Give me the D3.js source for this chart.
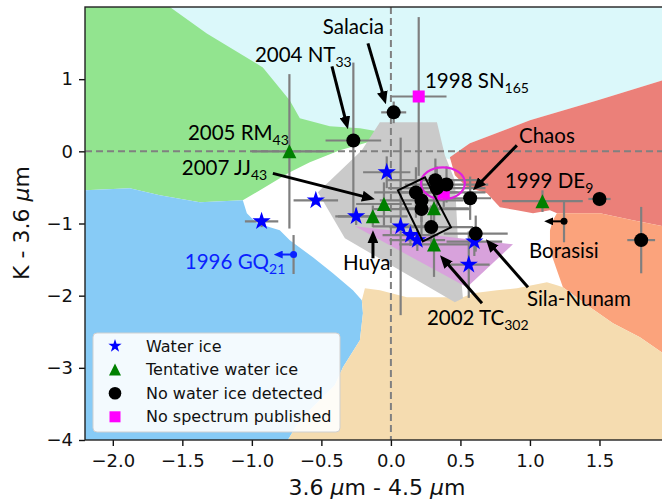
<!DOCTYPE html>
<html>
<head>
<meta charset="utf-8">
<script src="https://cdn.jsdelivr.net/npm/d3@7"></script>
<style>
  body { margin: 0; background: #fff; }
  svg { display: block; }
</style>
</head>
<body>
<svg id="chart" width="662" height="502"></svg>
<script>
// ---------------- data ----------------
// Colour–colour measurements with 1-sigma uncertainties
const waterIce = [
  { x: -0.93, y: -0.97, xerr: 0.12, yerr: 0.08 },
  { x: -0.54, y: -0.68, xerr: 0.16, yerr: 0.06 },
  { x: -0.25, y: -0.90, xerr: 0.15, yerr: 0.12 },
  { x: -0.03, y: -0.29, xerr: 0.17, yerr: 0.22 },
  { x: 0.07, y: -1.04, xerr: 0.20, yerr: 1.23 },
  { x: 0.14, y: -1.16, xerr: 0.20, yerr: 0.15 },
  { x: 0.19, y: -1.23, xerr: 0.20, yerr: 0.15 },
  { x: 0.60, y: -1.25, xerr: 0.20, yerr: 0.20 },
  { x: 0.56, y: -1.57, xerr: 0.15, yerr: 0.46 }
];
const tentativeIce = [
  { x: -0.73, y: 0.00, xerr: 0.27, yerr: 1.07 },
  { x: -0.05, y: -0.73, xerr: 0.20, yerr: 0.30 },
  { x: -0.13, y: -0.90, xerr: 0.25, yerr: 0.15 },
  { x: 0.31, y: -0.79, xerr: 0.25, yerr: 0.40 },
  { x: 0.31, y: -1.29, xerr: 0.25, yerr: 0.45 },
  { x: 1.09, y: -0.69, xerr: 0.29, yerr: 0.15 }
];
const noIce = [
  { x: 0.02, y: 0.54, xerr: 0.09, yerr: 0.15 },
  { x: -0.27, y: 0.15, xerr: 0.20, yerr: 1.08 },
  { x: 0.32, y: -0.40, xerr: 0.35, yerr: 0.30 },
  { x: 0.40, y: -0.46, xerr: 0.30, yerr: 0.25 },
  { x: 0.33, y: -0.51, xerr: 0.35, yerr: 0.30 },
  { x: 0.18, y: -0.57, xerr: 0.30, yerr: 0.35 },
  { x: 0.22, y: -0.68, xerr: 0.30, yerr: 0.30 },
  { x: 0.22, y: -0.80, xerr: 0.35, yerr: 0.35 },
  { x: 0.29, y: -1.05, xerr: 0.30, yerr: 0.30 },
  { x: 0.57, y: -0.65, xerr: 0.15, yerr: 0.30 },
  { x: 0.61, y: -1.14, xerr: 0.23, yerr: 0.25 },
  { x: 1.50, y: -0.66, xerr: 0.08, yerr: 0.10 },
  { x: 1.80, y: -1.23, xerr: 0.10, yerr: 0.46 }
];
const noSpectrum = [
  { x: 0.20, y: 0.76, xerr: 0.20, yerr: 1.10 },
  { x: 0.38, y: -0.57, xerr: 0.30, yerr: 0.20 }
];
// Upper limits in the 3.6-4.5 colour (arrow points to lower values)
const upperLimits = [
  { name: "1996 GQ21", x: -0.70, y: -1.43, dx: 0.15, yerr: 0.27, kind: "ice" },
  { name: "Borasisi", x: 1.245, y: -0.97, dx: 0.15, yerr: 0.29, kind: "none" }
];

// Model composition regions in colour space
const cyanRegion = [[-2.2,2.0],[2.0,2.0],[2.0,1.011],[1.482,0.706],[1.0,0.429],[0.568,0.111],[0.446,-0.125],[-0.058,0.152],[-0.655,0.36],[-2.2,0.36]];
const greenRegion = [[-2.2,2.0],[-1.59,2.0],[-1.324,1.634],[-0.921,1.163],[-0.727,0.706],[-0.655,0.457],[-0.439,0.346],[-0.223,0.319],[-0.058,0.263],[-0.115,0.152],[-0.367,0.014],[-0.583,-0.152],[-0.727,-0.291],[-0.942,-0.54],[-1.065,-0.679],[-1.374,-0.706],[-1.662,-0.609],[-1.878,-0.512],[-2.2,-0.54]];
const blueRegion = [[-2.2,-0.54],[-1.878,-0.512],[-1.662,-0.609],[-1.374,-0.706],[-1.065,-0.679],[-1.036,-0.859],[-0.964,-0.997],[-0.799,-1.094],[-0.727,-1.233],[-0.561,-1.468],[-0.417,-1.69],[-0.273,-1.925],[-0.209,-2.064],[-0.201,-2.244],[-0.223,-2.618],[-0.345,-2.992],[-0.403,-3.241],[-0.547,-3.518],[-0.655,-3.726],[-0.741,-4.0],[-2.2,-4.0]];
const redRegion = [[0.424,-0.083],[0.568,0.111],[1.0,0.429],[1.482,0.706],[2.0,1.011],[2.0,-1.053],[1.741,-0.956],[1.504,-0.859],[1.194,-0.859],[1.144,-0.817],[1.022,-0.859],[0.906,-0.817],[0.784,-0.776],[0.691,-0.582],[0.547,-0.499],[0.46,-0.332]];
const salmonRegion = [[1.194,-0.859],[1.504,-0.859],[1.741,-0.956],[2.0,-1.053],[2.0,-2.853],[1.791,-2.576],[1.597,-2.382],[1.432,-2.161],[1.237,-1.884],[1.194,-1.648],[1.144,-1.371],[1.144,-1.094],[1.165,-0.956]];
const tanRegion = [[-0.741,-4.0],[-0.655,-3.726],[-0.547,-3.518],[-0.403,-3.241],[-0.345,-2.992],[-0.223,-2.618],[-0.201,-2.244],[-0.209,-2.064],[-0.187,-1.898],[-0.079,-1.925],[0.115,-2.022],[0.518,-2.022],[0.59,-1.967],[0.763,-1.925],[0.906,-1.898],[1.122,-1.814],[1.194,-1.856],[1.237,-1.884],[1.432,-2.161],[1.597,-2.382],[1.791,-2.576],[2.0,-2.853],[2.0,-4.0]];
const grayRegion = [[-0.525,-0.568],[-0.209,0.014],[-0.079,0.402],[0.331,0.402],[0.388,-0.055],[0.46,-0.402],[0.482,-1.233],[0.518,-2.036],[0.46,-2.091],[-0.331,-1.205]];
const purpleRegion = [[-0.259,-1.039],[0.878,-1.288],[0.547,-1.884]];

// Highlight shapes
const highlightEllipse = { cx: 0.374, cy: -0.443, rx: 0.158, ry: 0.222 };
const highlightBox = [[0.05,-0.54],[0.245,-0.36],[0.432,-1.053],[0.23,-1.247]];

// Object labels (start of text) and pointer arrows
const labels = [
  { text: "Salacia", sub: "", x: -0.49, y: 1.62 },
  { text: "2004 NT", sub: "33", x: -0.978, y: 1.233 },
  { text: "1998 SN", sub: "165", x: 0.245, y: 0.875 },
  { text: "2005 RM", sub: "43", x: -1.46, y: 0.152 },
  { text: "2007 JJ", sub: "43", x: -1.504, y: -0.332 },
  { text: "Chaos", sub: "", x: 0.921, y: 0.111 },
  { text: "1999 DE", sub: "9", x: 0.82, y: -0.512 },
  { text: "Borasisi", sub: "", x: 0.993, y: -1.482 },
  { text: "Sila-Nunam", sub: "", x: 0.978, y: -2.147 },
  { text: "2002 TC", sub: "302", x: 0.259, y: -2.41 },
  { text: "Huya", sub: "", x: -0.345, y: -1.648 },
  { text: "1996 GQ", sub: "21", x: -1.482, y: -1.634, blue: true }
];
const pointers = [
  { x1: -0.165, y1: 1.496, x2: -0.036, y2: 0.651 },
  { x1: -0.424, y1: 1.177, x2: -0.309, y2: 0.305 },
  { x1: -0.849, y1: -0.305, x2: -0.115, y2: -0.665 },
  { x1: -0.129, y1: -1.482, x2: -0.129, y2: -1.094 },
  { x1: 0.906, y1: 0.083, x2: 0.59, y2: -0.54 },
  { x1: 0.986, y1: -1.884, x2: 0.683, y2: -1.219 },
  { x1: 0.655, y1: -2.105, x2: 0.353, y2: -1.44 }
];

const xTicks = [-2.0, -1.5, -1.0, -0.5, 0.0, 0.5, 1.0, 1.5];
const yTicks = [-4, -3, -2, -1, 0, 1];
const legendItems = ["Water ice", "Tentative water ice", "No water ice detected", "No spectrum published"];

// ---------------- drawing ----------------
const svg = d3.select("#chart");
const x = d3.scaleLinear().domain([-2.2, 2.0]).range([85, 669]);
const y = d3.scaleLinear().domain([-4, 2]).range([440, 7]);

const defs = svg.append("defs");
defs.append("clipPath").attr("id", "plotclip")
  .append("rect").attr("x", 85).attr("y", 7).attr("width", 584).attr("height", 433);
function headMarker(id, color, w, h) {
  defs.append("marker").attr("id", id)
    .attr("viewBox", `0 0 ${w} ${h}`).attr("refX", 2).attr("refY", h / 2)
    .attr("markerWidth", w).attr("markerHeight", h)
    .attr("markerUnits", "userSpaceOnUse").attr("orient", "auto")
    .append("path").attr("d", `M0,0 L${w},${h / 2} L0,${h} Z`).attr("fill", color);
}
headMarker("head", "#000", 13, 11);
headMarker("headSmall", "#000", 9, 8);
headMarker("headBlue", "#0a22ff", 9, 8);

const plot = svg.append("g").attr("clip-path", "url(#plotclip)");
plot.append("rect").attr("x", 85).attr("y", 7).attr("width", 584).attr("height", 433).attr("fill", "#fff");

const line = d3.line().x(d => x(d[0])).y(d => y(d[1]));
const regionStyles = [
  [cyanRegion, "#dbf8fa"],
  [greenRegion, "#92e48f"],
  [blueRegion, "#87cbf6"],
  [redRegion, "#eb8079"],
  [salmonRegion, "#fba37c"],
  [tanRegion, "#f5dcb0"],
  [grayRegion, "#cacaca"],
  [purpleRegion, "#d8a2dc"]
];
regionStyles.forEach(([pts, col]) => {
  plot.append("path").attr("d", line(pts) + "Z").attr("fill", col);
});

// zero lines
plot.append("line").attr("x1", x(0)).attr("x2", x(0)).attr("y1", y(2)).attr("y2", y(-4))
  .attr("stroke", "#808080").attr("stroke-width", 2).attr("stroke-dasharray", "7,4");
plot.append("line").attr("x1", x(-2.2)).attr("x2", x(2.0)).attr("y1", y(0)).attr("y2", y(0))
  .attr("stroke", "#808080").attr("stroke-width", 2).attr("stroke-dasharray", "7,4");

// error bars
const allPts = [...waterIce, ...tentativeIce, ...noIce, ...noSpectrum];
const eb = plot.append("g").attr("stroke", "#7f7f7f").attr("stroke-width", 2.2);
allPts.forEach(d => {
  if (d.xerr) eb.append("line").attr("x1", x(d.x - d.xerr)).attr("x2", x(d.x + d.xerr)).attr("y1", y(d.y)).attr("y2", y(d.y));
  if (d.yerr) eb.append("line").attr("x1", x(d.x)).attr("x2", x(d.x)).attr("y1", y(d.y - d.yerr)).attr("y2", y(d.y + d.yerr));
});
upperLimits.forEach(d => {
  eb.append("line").attr("x1", x(d.x)).attr("x2", x(d.x)).attr("y1", y(d.y - d.yerr)).attr("y2", y(d.y + d.yerr));
});

// highlight ellipse
plot.append("ellipse")
  .attr("cx", x(highlightEllipse.cx)).attr("cy", y(highlightEllipse.cy))
  .attr("rx", x(highlightEllipse.cx + highlightEllipse.rx) - x(highlightEllipse.cx))
  .attr("ry", y(highlightEllipse.cy) - y(highlightEllipse.cy + highlightEllipse.ry))
  .attr("fill", "none").attr("stroke", "#e020e0").attr("stroke-width", 2.2);

// markers
const starPath = r => d3.symbol(d3.symbolStar, r * r / 0.8908130915292852)();
const triPath = s => `M0,${-s} L${s},${s} L${-s},${s} Z`;

plot.selectAll(".sq").data(noSpectrum).join("rect")
  .attr("x", d => x(d.x) - 6).attr("y", d => y(d.y) - 6).attr("width", 12).attr("height", 12)
  .attr("fill", "#ff00ff");
plot.selectAll(".star").data(waterIce).join("path")
  .attr("d", starPath(9.6)).attr("transform", d => `translate(${x(d.x)},${y(d.y)})`)
  .attr("fill", "#0000ff");
plot.selectAll(".tri").data(tentativeIce).join("path")
  .attr("d", triPath(7)).attr("transform", d => `translate(${x(d.x)},${y(d.y)})`)
  .attr("fill", "#008000");
plot.selectAll(".dot").data(noIce).join("circle")
  .attr("cx", d => x(d.x)).attr("cy", d => y(d.y)).attr("r", 7).attr("fill", "#000");

// highlight box
plot.append("path").attr("d", line(highlightBox) + "Z")
  .attr("fill", "none").attr("stroke", "#000").attr("stroke-width", 2);

// upper-limit points
upperLimits.forEach(d => {
  const col = d.kind === "ice" ? "#0a22ff" : "#000";
  plot.append("line").attr("x1", x(d.x)).attr("y1", y(d.y))
    .attr("x2", x(d.x - d.dx) + 8).attr("y2", y(d.y))
    .attr("stroke", col).attr("stroke-width", 2)
    .attr("marker-end", d.kind === "ice" ? "url(#headBlue)" : "url(#headSmall)");
  plot.append("circle").attr("cx", x(d.x)).attr("cy", y(d.y)).attr("r", 3.5).attr("fill", col);
});

// pointer arrows
pointers.forEach(p => {
  const X1 = x(p.x1), Y1 = y(p.y1), X2 = x(p.x2), Y2 = y(p.y2);
  const L = Math.hypot(X2 - X1, Y2 - Y1), k = (L - 11) / L;
  plot.append("line").attr("x1", X1).attr("y1", Y1)
    .attr("x2", X1 + (X2 - X1) * k).attr("y2", Y1 + (Y2 - Y1) * k)
    .attr("stroke", "#000").attr("stroke-width", 3)
    .attr("marker-end", "url(#head)");
});

// labels
labels.forEach(d => {
  const t = plot.append("text").attr("x", x(d.x)).attr("y", y(d.y))
    .attr("font-family", "Lato, 'Open Sans', sans-serif").attr("font-size", 20.5)
    .attr("fill", d.blue ? "#0a22ff" : "#000");
  t.append("tspan").text(d.text);
  if (d.sub) t.append("tspan").attr("font-size", 14).attr("dy", 5).text(d.sub);
});

// axes
const axFont = "'DejaVu Sans', sans-serif";
const xAxis = svg.append("g").attr("transform", "translate(0,440)")
  .call(d3.axisBottom(x).tickValues(xTicks).tickFormat(d3.format(".1f")).tickSize(6).tickPadding(8).tickSizeOuter(0));
const yAxis = svg.append("g").attr("transform", "translate(85,0)")
  .call(d3.axisLeft(y).tickValues(yTicks).tickFormat(d3.format("d")).tickSize(6).tickPadding(6).tickSizeOuter(0));
[xAxis, yAxis].forEach(a => {
  a.select(".domain").remove();
  a.selectAll(".tick line").attr("stroke", "#111").attr("stroke-width", 1.4);
  a.selectAll(".tick text").attr("font-family", axFont).attr("font-size", 18).attr("fill", "#111");
});
// frame
svg.append("rect").attr("x", 85).attr("y", 7).attr("width", 584).attr("height", 433)
  .attr("fill", "none").attr("stroke", "#222").attr("stroke-width", 1.4);

// axis titles
const xl = svg.append("text").attr("x", 377).attr("y", 495).attr("text-anchor", "middle")
  .attr("font-family", axFont).attr("font-size", 22).attr("fill", "#111");
xl.append("tspan").text("3.6 ");
xl.append("tspan").attr("font-style", "italic").text("μ");
xl.append("tspan").text("m - 4.5 ");
xl.append("tspan").attr("font-style", "italic").text("μ");
xl.append("tspan").text("m");

const yl = svg.append("text").attr("transform", "translate(29,223) rotate(-90)").attr("text-anchor", "middle")
  .attr("font-family", axFont).attr("font-size", 22).attr("fill", "#111");
yl.append("tspan").text("K - 3.6 ");
yl.append("tspan").attr("font-style", "italic").text("μ");
yl.append("tspan").text("m");

// legend
const lg = svg.append("g");
lg.append("rect").attr("x", 93).attr("y", 333).attr("width", 247).attr("height", 99).attr("rx", 4)
  .attr("fill", "#fff").attr("fill-opacity", 0.9).attr("stroke", "#d0d0d0").attr("stroke-width", 1);
const rowY = i => 346 + i * 23.6;
lg.append("path").attr("d", starPath(7)).attr("transform", `translate(115,${rowY(0)})`).attr("fill", "#0000ff");
lg.append("path").attr("d", triPath(6)).attr("transform", `translate(115,${rowY(1)})`).attr("fill", "#008000");
lg.append("circle").attr("cx", 115).attr("cy", rowY(2)).attr("r", 6.3).attr("fill", "#000");
lg.append("rect").attr("x", 109.5).attr("y", rowY(3) - 5.5).attr("width", 11).attr("height", 11).attr("fill", "#ff00ff");
legendItems.forEach((t, i) => {
  lg.append("text").attr("x", 146).attr("y", rowY(i) + 5.5)
    .attr("font-family", axFont).attr("font-size", 16).attr("fill", "#111").text(t);
});
</script>
</body>
</html>
